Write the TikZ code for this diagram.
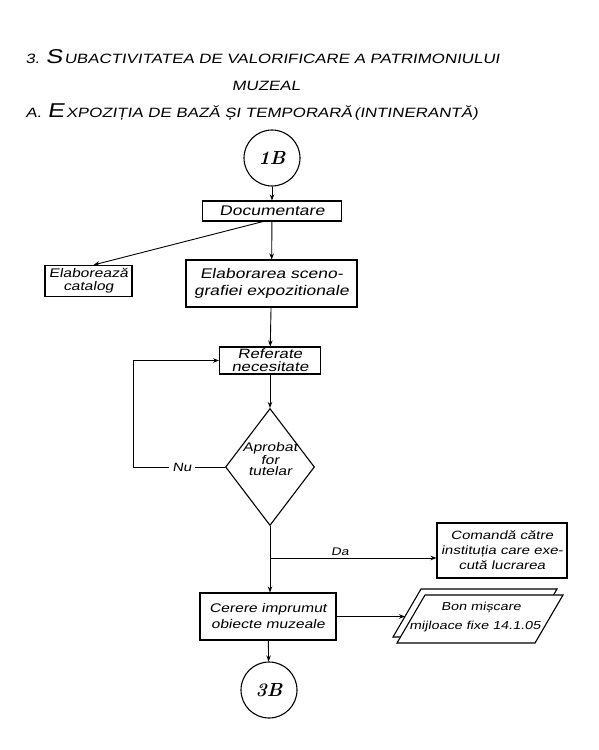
\documentclass[tikz,border=0pt]{standalone}
\usepackage{fontspec}
\usetikzlibrary{arrows.meta,shapes.geometric}
\newfontfamily\hand[FakeSlant=0.18,FakeStretch=1.25]{Liberation Sans}
\newcommand{\hsz}[2]{\fontsize{#1pt}{#2pt}\selectfont}
\begin{document}
\begin{tikzpicture}[x=1pt,y=-1pt,
  line width=1.1pt,
  box/.style={draw,rectangle,align=center,inner sep=0pt,font={\hand\hsz{14}{17}}},
  conn/.style={line width=0.9pt},
  arr/.style={conn,-{Stealth[length=6pt,width=4.5pt]}},
  term/.style={draw,circle,minimum size=56pt,inner sep=0pt,font={\hsz{19}{19}\bfseries\itshape}},
  ttl/.style={anchor=base west,inner sep=0pt,font={\hand\hsz{13.5}{13.5}}}
]
\useasboundingbox[fill=white] (0,0) rectangle (599,750);

% titles
\node[ttl] (t1) at (25,63) {3.\kern6pt{\hsz{20}{20}S}\kern2pt UBACTIVITATEA DE VALORIFICARE A PATRIMONIULUI};
\node[ttl,anchor=base] (t2) at (266,90) {MUZEAL};
\node[ttl] (t3) at (25,117) {A.\kern6pt{\hsz{20}{20}E}\kern2pt XPOZIȚIA DE BAZĂ ȘI TEMPORARĂ\kern2pt(INTINERANTĂ)};

% nodes
\node[term] (b1) at (272,158) {1B};
\node[box,minimum width=139pt,minimum height=20pt] (doc) at (272,211) {Documentare};
\node[box,minimum width=87pt,minimum height=31pt,font={\hand\hsz{12.5}{13}}] (cat) at (88.5,281) {Elaborează\\catalog};
\node[box,minimum width=171pt,minimum height=47pt] (elab) at (271.5,283.5) {Elaborarea sceno-\\grafiei expozitionale};
\node[box,minimum width=101pt,minimum height=27pt,font={\hand\hsz{13.5}{13}}] (ref) at (270,360.5) {Referate\\necesitate};
\node[draw,diamond,minimum width=89pt,minimum height=117pt,inner sep=0pt] (dia) at (270,467) {};
\node[align=center,inner sep=0pt,font={\hand\hsz{12.5}{11}}] (diat) at (270,459) {Aprobat\\for\\tutelar};
\node[box,minimum width=130pt,minimum height=55pt,font={\hand\hsz{12}{15}}] (com) at (502,550.5) {Comandă către\\instituția care exe-\\cută lucrarea};
\node[box,minimum width=136pt,minimum height=47pt,font={\hand\hsz{12.5}{16}}] (cer) at (268,616.5) {Cerere imprumut\\obiecte muzeale};
% document (two stacked sheets)
\draw[fill=white] (393,637) -- (421,589) -- (557,589) -- (529,637) -- cycle;
\draw[fill=white] (397,643) -- (425,595) -- (563,595) -- (535,643) -- cycle;
\coordinate (bonin) at (405,619);
\node[align=center,inner sep=0pt,font={\hand\hsz{11.5}{19}}] (bon) at (475,617) {\kern12pt Bon mișcare\\mijloace fixe 14.1.05};
\node[term] (b3) at (269,690) {3B};

% connectors
\draw[arr] (b1) -- (doc);
\draw[arr] (doc) -- (elab);
\draw[arr] ([xshift=-9pt]doc.south) -- ([xshift=5pt]cat.north);
\draw[arr] (elab) -- (ref);
\draw[arr] (ref) -- (dia);
\draw[arr] (dia.west) -- (133,467) -- (133,360.5) -- (ref.west);
\node[fill=white,inner sep=3pt,font={\hand\hsz{12}{12}}] (nu) at (182,467) {Nu};
\coordinate (br) at (dia.south |- 0,558);
\draw[arr] (dia.south) -- (dia.south |- cer.north);
\draw[arr] (br) -- (br -| com.west);
\node[anchor=south,inner sep=1pt,font={\hand\hsz{11}{11}}] (da) at (340,557) {Da};
\draw[arr] (cer.east) -- (cer.east -| bonin);
\draw[arr] (cer) -- (b3);
\end{tikzpicture}
\end{document}
